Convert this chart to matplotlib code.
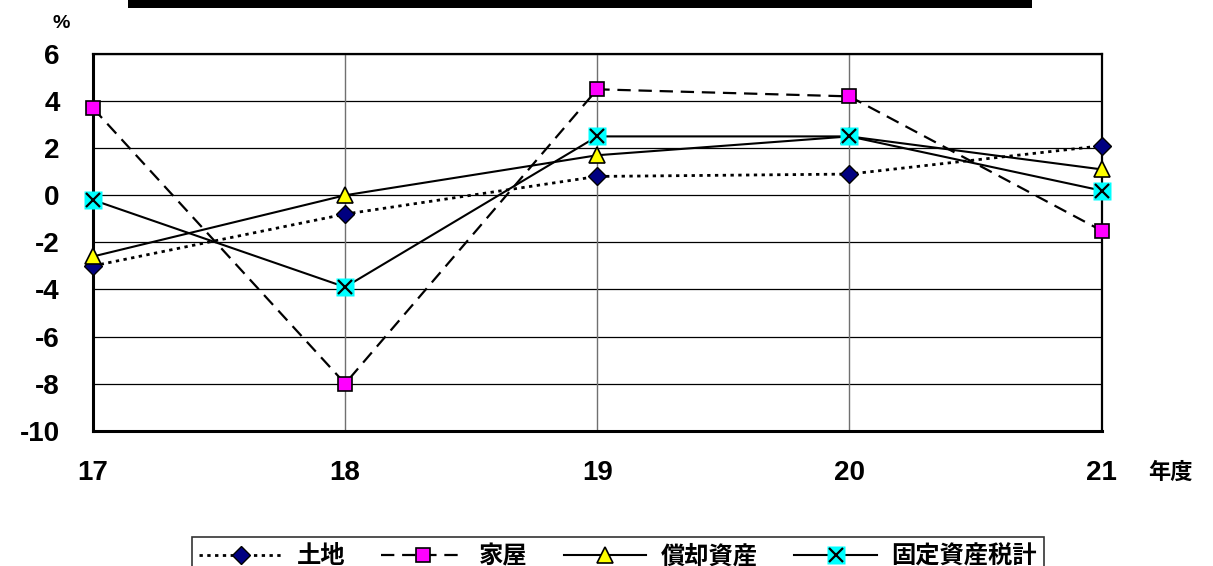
import matplotlib
matplotlib.use("Agg")
import matplotlib.pyplot as plt
from matplotlib.patches import Rectangle

years = [17, 18, 19, 20, 21]
year_labels = ["17", "18", "19", "20", "21"]
land = [-3.0, -0.8, 0.8, 0.9, 2.1]
house = [3.7, -8.0, 4.5, 4.2, -1.5]
depreciable = [-2.6, 0.0, 1.7, 2.5, 1.1]
total = [-0.2, -3.9, 2.5, 2.5, 0.2]
series_names = ["土地", "家屋", "償却資産", "固定資産税計"]
yticks = [6, 4, 2, 0, -2, -4, -6, -8, -10]

NUM = ["Liberation Sans", "DejaVu Sans"]
CJK = ["Noto Sans CJK JP", "DejaVu Sans"]

W, H = 1213, 566
fig = plt.figure(figsize=(W / 100, H / 100), dpi=100)
L, R, T, B = 93, 1101.5, 54, 430.7
ax = fig.add_axes([L / W, 1 - B / H, (R - L) / W, (B - T) / H])

# title bar remnant at top
fig.add_artist(Rectangle((128 / W, 1 - 8 / H), (1032 - 128) / W, 9 / H,
                         transform=fig.transFigure, facecolor="black",
                         edgecolor="none"))

ax.set_xlim(17, 21)
ax.set_ylim(-10, 6)
ax.set_yticks(yticks)
ax.set_xticks(years)
ax.set_xticklabels(year_labels)
ax.set_yticklabels([str(v) for v in yticks])
for lab in ax.get_yticklabels() + ax.get_xticklabels():
    lab.set_fontfamily(NUM)
    lab.set_fontweight("bold")
    lab.set_fontsize(20)
ax.tick_params(axis="y", length=0, pad=24)
ax.tick_params(axis="x", length=0, pad=21)

for y in yticks:
    ax.axhline(y, color="black", lw=0.9, zorder=1)
for x in years[1:-1]:
    ax.axvline(x, color="#707070", lw=1.0, zorder=1)
for s in ax.spines.values():
    s.set_color("black")
    s.set_linewidth(1.6)
ax.spines["left"].set_linewidth(2.2)
ax.spines["bottom"].set_linewidth(2.2)

l1, = ax.plot(years, land, color="black", lw=2.0, linestyle=(0, (1.2, 1.6)),
              marker="D", markersize=9.5, markerfacecolor="#000080",
              markeredgecolor="black", markeredgewidth=1.0, zorder=4,
              clip_on=False, label=series_names[0])
l2, = ax.plot(years, house, color="black", lw=1.6, linestyle=(0, (6, 3.5)),
              marker="s", markersize=10.5, markerfacecolor="#FF00FF",
              markeredgecolor="black", markeredgewidth=1.2, zorder=4,
              clip_on=False, label=series_names[1])
l3, = ax.plot(years, depreciable, color="black", lw=1.5, linestyle="-",
              marker="^", markersize=12, markerfacecolor="#FFFF00",
              markeredgecolor="black", markeredgewidth=1.2, zorder=4,
              clip_on=False, label=series_names[2])
l4, = ax.plot(years, total, color="black", lw=1.5, linestyle="-",
              marker="s", markersize=13, markerfacecolor="#00FFFF",
              markeredgecolor="none", zorder=5, clip_on=False,
              label=series_names[3])
l4x, = ax.plot(years, total, linestyle="none", marker="x", markersize=10,
               markeredgecolor="black", markeredgewidth=1.6, zorder=6,
               clip_on=False)

fig.text(61 / W, 1 - 23 / H, "%", fontfamily=NUM, fontweight="bold",
         fontsize=14, ha="center", va="center")
fig.text(1170 / W, 1 - 472 / H, "年度", fontfamily=CJK, fontweight="bold",
         fontsize=16, ha="center", va="center")

leg = fig.legend([l1, l2, l3, (l4, l4x)], series_names, loc="upper left",
                 bbox_to_anchor=(192 / W, 1 - 537 / H), ncol=4,
                 prop={"family": CJK, "weight": "bold", "size": 17.5},
                 frameon=True, fancybox=False, edgecolor="black",
                 handlelength=3.4, handletextpad=0.6, columnspacing=1.5,
                 borderpad=0.3, borderaxespad=0)
leg.get_frame().set_linewidth(1.2)

fig.savefig("out.png", dpi=100)
